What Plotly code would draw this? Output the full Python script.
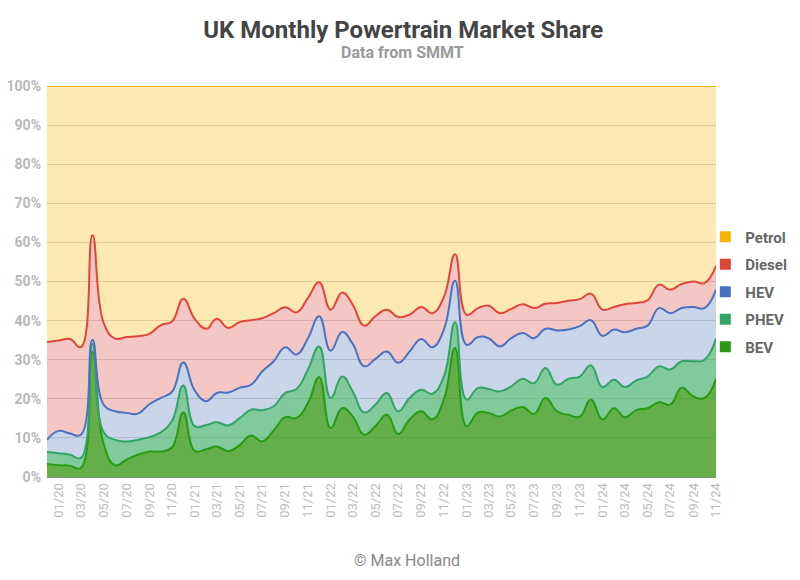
import pandas as pd
import plotly.graph_objects as go

# Meses: 12/19 a 11/24
months = pd.date_range("2019-12-01", "2024-11-01", freq="MS")

# Cuota de mercado mensual (%) por tipo de motorización
bev = [3.3, 3.0, 2.9, 2.3, 32.0, 8.5, 3.0, 4.4, 5.7, 6.5, 6.5, 7.6, 16.5, 6.7, 7.1, 7.8, 6.6, 8.1,
       10.6, 9.1, 11.9, 15.3, 15.1, 18.9, 25.6, 12.5, 17.6, 15.5, 10.8, 13.0, 15.9, 11.0, 14.7, 16.8,
       14.7, 19.8, 33.0, 13.0, 16.5, 16.4, 15.5, 17.0, 17.9, 16.1, 20.2, 16.8, 15.9, 15.4, 19.8, 14.7,
       17.6, 15.3, 17.1, 17.6, 19.1, 18.5, 22.8, 20.6, 20.2, 25.1]
phev = [3.1, 3.1, 2.8, 2.6, 2.1, 3.0, 6.5, 4.7, 3.8, 3.7, 4.9, 6.8, 6.9, 6.3, 6.2, 6.2, 6.6, 6.9,
        6.6, 8.0, 6.2, 6.2, 7.4, 8.6, 7.8, 7.7, 8.1, 6.4, 5.7, 5.5, 5.6, 5.8, 5.5, 5.5,
        6.6, 5.9, 6.6, 6.8, 6.3, 6.1, 6.4, 6.2, 7.2, 7.9, 7.7, 6.8, 9.2, 10.3, 8.8, 8.3,
        7.3, 7.7, 7.6, 8.1, 9.2, 9.0, 6.8, 9.0, 9.8, 10.3]
hev = [3.1, 5.7, 5.4, 5.9, 1.0, 7.0, 7.3, 7.3, 6.7, 8.4, 8.8, 7.4, 5.9, 9.1, 6.1, 7.5, 8.4, 7.8,
       6.4, 9.9, 11.5, 11.7, 8.8, 8.0, 7.7, 12.1, 11.4, 12.2, 11.8, 11.7, 10.6, 12.4, 11.9, 13.0,
       11.9, 12.0, 10.6, 14.0, 13.0, 13.0, 11.5, 12.3, 11.7, 11.5, 10.0, 13.9, 12.6, 12.9, 11.5, 13.1,
       12.8, 14.0, 13.2, 13.0, 14.9, 14.4, 13.6, 13.9, 13.2, 12.5]
diesel = [25.0, 23.1, 24.2, 22.4, 26.7, 21.0, 18.6, 19.4, 19.8, 18.0, 18.6, 18.0, 16.3, 18.3, 18.5, 19.0, 16.5, 16.8,
          16.5, 13.6, 12.3, 10.2, 10.8, 10.3, 8.7, 10.5, 10.1, 10.0, 10.4, 10.9, 10.7, 11.7, 9.4, 8.2,
          8.7, 8.3, 6.8, 7.7, 7.4, 8.3, 8.5, 7.5, 7.4, 7.7, 6.4, 7.0, 7.4, 6.9, 6.8, 6.7,
          5.8, 7.2, 6.6, 6.5, 6.0, 6.0, 6.2, 6.5, 6.4, 6.1]
petrol = [65.5, 65.1, 64.7, 66.8, 38.2, 60.5, 64.6, 64.2, 64.0, 63.4, 61.2, 60.2, 54.4, 59.6, 62.1, 59.5, 61.9, 60.4,
          59.9, 59.4, 58.1, 56.6, 57.9, 54.2, 50.2, 57.2, 52.8, 55.9, 61.3, 58.9, 57.2, 59.1, 58.5, 56.5,
          58.1, 54.0, 43.0, 58.5, 56.8, 56.2, 58.1, 57.0, 55.8, 56.8, 55.7, 55.5, 54.9, 54.5, 53.1, 57.2,
          56.5, 55.8, 55.5, 54.8, 50.8, 52.1, 50.6, 50.0, 50.4, 46.0]

FONT = "Roboto"

# nombre, valores, color de línea, relleno, color de la leyenda (de abajo hacia arriba)
series = [
    ("BEV", bev, "#2a9a12", "rgba(48,148,14,0.75)", "#2a9a12"),
    ("PHEV", phev, "#33a466", "rgba(47,165,90,0.6)", "#33a466"),
    ("HEV", hev, "#4a72c0", "rgba(75,115,182,0.3)", "#4a6fbf"),
    ("Diesel", diesel, "#e0463a", "rgba(222,68,58,0.3)", "#db4437"),
    ("Petrol", petrol, "#f4b400", "rgba(245,178,0,0.3)", "#f4b400"),
]

fig = go.Figure()

for name, vals, lc, fc, _ in series:
    fig.add_trace(go.Scatter(
        x=months, y=vals, name=name, mode="lines",
        stackgroup="one", groupnorm="percent",
        line=dict(color=lc, width=2, shape="spline", smoothing=1.3),
        fillcolor=fc, showlegend=False,
        hovertemplate="%{x|%m/%y}: %{y:.1f}%<extra>" + name + "</extra>",
    ))

# Leyenda con cuadrados
for i, (name, _, _, _, mc) in enumerate(series):
    fig.add_trace(go.Scatter(
        x=[None], y=[None], mode="markers", name=name,
        marker=dict(symbol="square", size=11, color=mc),
        legendgroup=name, legendrank=len(series) - i,
    ))

# la página tiene 8 px de margen en el body: se compensa en los márgenes
fig.update_layout(
    width=800, height=580,
    margin=dict(l=39, r=92, t=78, b=111),
    paper_bgcolor="white", plot_bgcolor="white",
    font=dict(family=FONT),
    title=dict(text="<b>UK Monthly Powertrain Market Share</b>",
               x=0.494, xref="container", xanchor="center",
               y=1 - 22 / 580, yref="container", yanchor="middle",
               font=dict(size=24, color="#444444", family=FONT)),
    legend=dict(x=0.984, xanchor="left", y=0.473, yanchor="middle",
                font=dict(size=15, color="#666666", family=FONT, weight="bold"),
                tracegroupgap=5, bgcolor="rgba(0,0,0,0)", itemwidth=30),
    showlegend=True,
    annotations=[
        dict(text="<b>Data from SMMT</b>", x=0.531, xref="paper", y=1.085,
             yref="paper", xanchor="center", yanchor="middle", showarrow=False,
             font=dict(size=16, color="#9a9a9a", family=FONT)),
        dict(text="© Max Holland", x=0.538, xref="paper", y=-0.2123,
             yref="paper", xanchor="center", yanchor="middle", showarrow=False,
             font=dict(size=16, color="#888888", family=FONT)),
    ],
)

fig.update_xaxes(
    type="date", range=[months[0], months[-1]], automargin=False,
    tick0="2020-01-01", dtick="M2", tickformat="%m/%y", tickangle=-90,
    tickfont=dict(size=13, color="#bbbbbb", family=FONT),
    showgrid=False, showline=True, linecolor="#888888", linewidth=1,
    ticks="", ticklen=0,
)
fig.update_yaxes(
    range=[0, 100], dtick=10, ticksuffix="%", automargin=False,
    tickfont=dict(size=14, color="#b8b8b8", family=FONT, weight="bold"),
    ticklabelstandoff=5,
    showgrid=True, gridcolor="#d9d9d9", gridwidth=1, zeroline=False,
    showline=False,
)

fig.write_html("out.html")
